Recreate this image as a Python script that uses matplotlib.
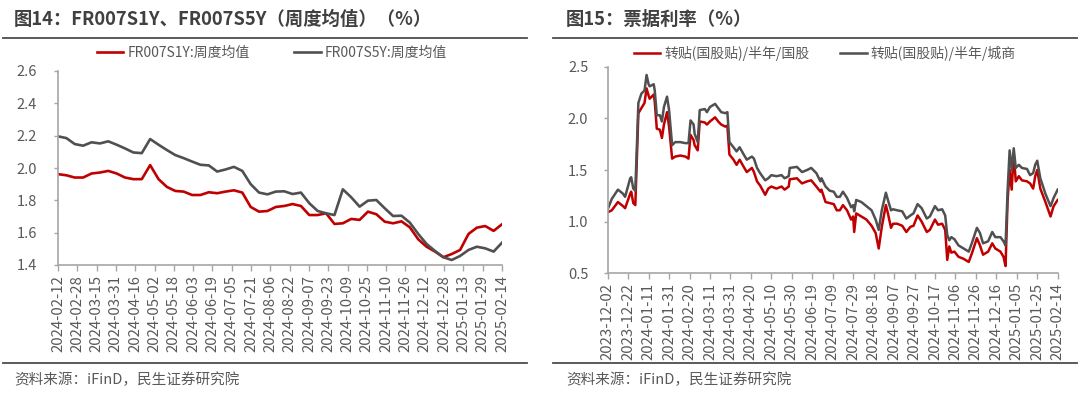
import matplotlib
matplotlib.use('Agg')
import matplotlib.pyplot as plt
import matplotlib.dates as mdates
from matplotlib.lines import Line2D
from matplotlib.ticker import MultipleLocator, FormatStrFormatter
import pandas as pd

plt.rcParams['font.family'] = ['Noto Sans CJK SC', 'DejaVu Sans']
plt.rcParams['axes.unicode_minus'] = False

# ---------------- data: left chart (weekly averages) ----------------
left_start = '2024-02-12'
left_end = '2025-02-14'
fr007s1y = [1.962, 1.955, 1.941, 1.941, 1.966, 1.972, 1.982, 1.966, 1.941, 1.931,
            1.931, 2.018, 1.931, 1.883, 1.858, 1.854, 1.833, 1.833, 1.850, 1.844,
            1.854, 1.862, 1.848, 1.759, 1.730, 1.734, 1.759, 1.765, 1.777, 1.765,
            1.709, 1.709, 1.720, 1.654, 1.658, 1.685, 1.679, 1.730, 1.714, 1.668,
            1.658, 1.670, 1.633, 1.559, 1.513, 1.483, 1.448, 1.468, 1.493, 1.592,
            1.631, 1.641, 1.611, 1.652]
fr007s5y = [2.196, 2.185, 2.148, 2.138, 2.159, 2.152, 2.165, 2.144, 2.121, 2.096,
            2.092, 2.179, 2.144, 2.111, 2.080, 2.061, 2.040, 2.020, 2.016, 1.978,
            1.991, 2.007, 1.982, 1.900, 1.848, 1.837, 1.854, 1.856, 1.839, 1.848,
            1.782, 1.734, 1.720, 1.709, 1.868, 1.819, 1.761, 1.798, 1.802, 1.751,
            1.703, 1.705, 1.662, 1.592, 1.530, 1.487, 1.448, 1.431, 1.456, 1.493,
            1.513, 1.503, 1.483, 1.538]
left_labels = ['FR007S1Y:周度均值', 'FR007S5Y:周度均值']

# ---------------- data: right chart (bill rates) ----------------
right_start = '2023-12-02'
right_end = '2025-02-14'
bill_day = [0, 4, 10, 15, 17, 22, 23, 25, 27, 30, 33, 36, 38, 40, 41, 45, 46, 48, 51, 53,
            55, 58, 60, 63, 66, 71, 76, 79, 81, 84, 85, 88, 90, 95, 97, 100, 105, 108, 111, 115,
            117, 119, 123, 126, 129, 133, 136, 141, 143, 146, 149, 154, 157, 160, 165, 170, 173, 177, 178, 185,
            190, 195, 199, 204, 208, 209, 213, 217, 221, 224, 227, 230, 234, 238, 240, 241, 243, 248, 253, 258,
            262, 265, 268, 272, 274, 277, 279, 283, 288, 292, 296, 299, 303, 307, 312, 315, 320, 323, 327, 330,
            332, 334, 336, 339, 343, 348, 353, 356, 361, 364, 367, 372, 376, 379, 384, 387, 389, 391, 393, 395,
            397, 399, 402, 405, 410, 413, 416, 418, 420, 423, 428, 433, 436, 440]
bill_guogu = [1.09, 1.11, 1.19, 1.15, 1.13, 1.27, 1.29, 1.18, 1.16, 2.05, 2.10, 2.15, 2.29, 2.22, 2.19, 2.23, 2.16, 1.90, 1.89, 1.81,
              1.94, 2.06, 1.92, 1.61, 1.63, 1.64, 1.63, 1.61, 1.84, 1.79, 1.74, 1.69, 1.97, 1.96, 1.94, 1.97, 2.01, 1.97, 1.94, 1.92,
              1.93, 1.65, 1.60, 1.55, 1.60, 1.53, 1.48, 1.52, 1.48, 1.39, 1.35, 1.26, 1.32, 1.34, 1.32, 1.34, 1.31, 1.34, 1.41, 1.42,
              1.37, 1.39, 1.40, 1.34, 1.29, 1.31, 1.19, 1.18, 1.17, 1.11, 1.11, 1.16, 1.11, 1.02, 1.05, 0.90, 1.08, 1.05, 1.02, 0.96,
              0.89, 0.74, 0.95, 1.16, 1.08, 0.94, 0.98, 0.98, 0.96, 0.90, 0.95, 0.96, 1.06, 1.00, 0.90, 0.92, 1.02, 0.97, 0.98, 0.92,
              0.63, 0.76, 0.70, 0.71, 0.66, 0.64, 0.61, 0.69, 0.84, 0.77, 0.68, 0.71, 0.79, 0.74, 0.71, 0.66, 0.57, 1.20, 1.50, 1.31,
              1.66, 1.39, 1.44, 1.40, 1.39, 1.37, 1.32, 1.44, 1.50, 1.32, 1.19, 1.05, 1.15, 1.21]
bill_chengshang = [1.12, 1.22, 1.31, 1.27, 1.24, 1.42, 1.43, 1.32, 1.30, 2.15, 2.24, 2.27, 2.42, 2.33, 2.31, 2.33, 2.27, 2.03, 2.03, 1.97,
                   2.11, 2.21, 2.08, 1.74, 1.77, 1.77, 1.76, 1.76, 1.98, 1.94, 1.85, 1.77, 2.08, 2.09, 2.06, 2.11, 2.14, 2.10, 2.06, 2.05,
                   2.06, 1.77, 1.72, 1.68, 1.72, 1.65, 1.60, 1.63, 1.61, 1.52, 1.47, 1.40, 1.42, 1.45, 1.44, 1.45, 1.42, 1.44, 1.52, 1.53,
                   1.48, 1.50, 1.52, 1.47, 1.39, 1.42, 1.34, 1.30, 1.29, 1.24, 1.24, 1.29, 1.23, 1.14, 1.16, 1.10, 1.21, 1.19, 1.15, 1.11,
                   1.02, 0.92, 1.11, 1.28, 1.21, 1.11, 1.12, 1.11, 1.10, 1.03, 1.06, 1.08, 1.17, 1.13, 1.03, 1.05, 1.15, 1.11, 1.12, 1.06,
                   0.87, 0.82, 0.85, 0.83, 0.77, 0.74, 0.71, 0.79, 0.94, 0.89, 0.79, 0.81, 0.90, 0.85, 0.85, 0.81, 0.77, 1.30, 1.69, 1.50,
                   1.71, 1.52, 1.55, 1.52, 1.51, 1.45, 1.47, 1.55, 1.59, 1.42, 1.27, 1.15, 1.23, 1.31]
right_labels = ['转贴(国股贴)/半年/国股', '转贴(国股贴)/半年/城商']

title_left = '图14：FR007S1Y、FR007S5Y（周度均值）（%）'
title_right = '图15：票据利率（%）'
source_text = '资料来源：iFinD，民生证券研究院'

# ---------------- styling ----------------
RED = '#C00000'
GRAY = '#505050'
TEXT = '#595959'
SPINE = '#A6A6A6'
RULE = '#4D4D4D'

W, H = 1080, 393
fig = plt.figure(figsize=(W / 100, H / 100), dpi=100)
fig.patch.set_facecolor('white')


def fx(px):
    return px / W


def fy(py):
    return 1 - py / H


def style_axes(ax, ylo, yhi, ystep, tick_dates, xlo, xhi, ypad):
    for s in ('top', 'right'):
        ax.spines[s].set_visible(False)
    for s in ('left', 'bottom'):
        ax.spines[s].set_color(SPINE)
        ax.spines[s].set_linewidth(1.2)
    ax.set_ylim(ylo, yhi)
    ax.yaxis.set_major_locator(MultipleLocator(ystep))
    ax.yaxis.set_major_formatter(FormatStrFormatter('%.1f'))
    ax.set_xlim(pd.Timestamp(xlo), pd.Timestamp(xhi))
    ax.set_xticks(tick_dates)
    ax.xaxis.set_major_formatter(mdates.DateFormatter('%Y-%m-%d'))
    ax.tick_params(axis='x', direction='out', length=4, width=1, color=SPINE,
                   labelsize=10.8, labelcolor=TEXT, rotation=90, pad=3)
    ax.tick_params(axis='y', direction='out', length=3, width=1, color=SPINE,
                   labelsize=10.5, labelcolor=TEXT, pad=ypad)
    ax.set_facecolor('white')


# ---------------- left chart ----------------
axL = fig.add_axes([fx(58), fy(265), fx(444), 194 / H])
left_dates = pd.date_range(left_start, left_end, periods=len(fr007s1y))
axL.plot(left_dates, fr007s1y, color=RED, lw=1.9, label=left_labels[0], solid_joinstyle='round')
axL.plot(left_dates, fr007s5y, color=GRAY, lw=1.9, label=left_labels[1], solid_joinstyle='round')
style_axes(axL, 1.4, 2.6, 0.2, pd.date_range(left_start, left_end, freq='16D'),
           left_start, left_end, 12)
legL = axL.legend(loc='center', bbox_to_anchor=(fx(272), fy(53)), bbox_transform=fig.transFigure,
                  ncol=2, frameon=False, fontsize=10, handlelength=1.9, columnspacing=3.2,
                  handletextpad=0.3, labelcolor=TEXT)

# ---------------- right chart ----------------
axR = fig.add_axes([fx(607.7), fy(273.3), fx(450), 206.6 / H])
right_dates = pd.Timestamp(right_start) + pd.to_timedelta(bill_day, unit='D')
axR.plot(right_dates, bill_guogu, color=RED, lw=1.8, label=right_labels[0])
axR.plot(right_dates, bill_chengshang, color=GRAY, lw=1.8, label=right_labels[1])
style_axes(axR, 0.5, 2.5, 0.5, pd.date_range(right_start, right_end, freq='20D'),
           right_start, right_end, 11)
legR = axR.legend(loc='center', bbox_to_anchor=(fx(825), fy(53)), bbox_transform=fig.transFigure,
                  ncol=2, frameon=False, fontsize=10, handlelength=1.9, columnspacing=2.2,
                  handletextpad=0.3, labelcolor=TEXT)

# ---------------- titles, rules, sources ----------------
fig.text(fx(14), fy(19), title_left, fontsize=13.2, fontweight='bold', color='#404040',
         ha='left', va='center')
fig.text(fx(566), fy(19), title_right, fontsize=13.2, fontweight='bold', color='#404040',
         ha='left', va='center')

for x0, x1 in ((3, 527), (553, 1077)):
    for yy in (38, 363):
        fig.add_artist(Line2D([fx(x0), fx(x1)], [fy(yy), fy(yy)], transform=fig.transFigure,
                              color=RULE, lw=1.3))

fig.text(fx(14), fy(380), source_text, fontsize=10.5, color=TEXT, ha='left', va='center')
fig.text(fx(566), fy(380), source_text, fontsize=10.5, color=TEXT, ha='left', va='center')

fig.savefig('out.png', dpi=100, facecolor='white')
